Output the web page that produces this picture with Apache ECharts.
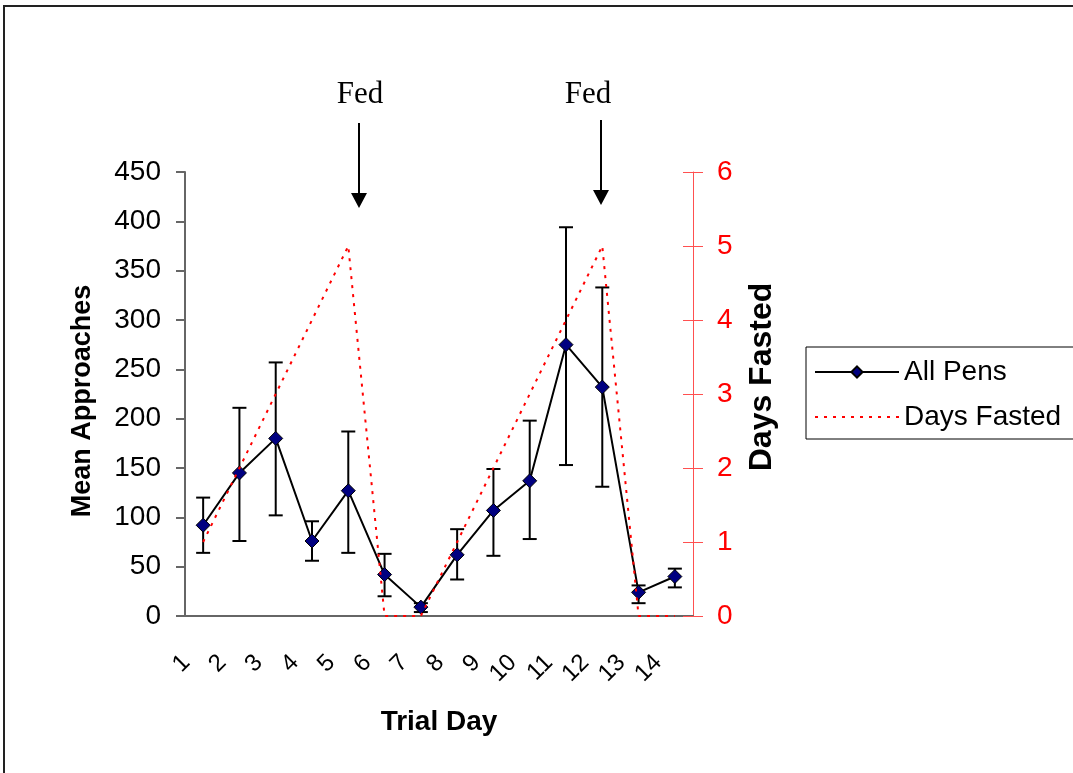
<!DOCTYPE html>
<html>
<head>
<meta charset="utf-8">
<script src="https://cdn.jsdelivr.net/npm/echarts@6/dist/echarts.min.js"></script>
<style>
html,body{margin:0;padding:0;background:#fff}
#chart{width:1073px;height:773px}
</style>
</head>
<body>
<div id="chart"></div>
<script>
// data
let days = ['1','2','3','4','5','6','7','8','9','10','11','12','13','14']
let allPens = [92, 145, 180, 76, 127, 42, 9, 62, 107, 137, 275, 232, 24, 40]
let errHigh = [120, 211, 257, 96, 187, 63, 13, 88, 149, 198, 394, 333, 31, 48]
let errLow = [64, 76, 102, 56, 64, 20, 4, 37, 61, 78, 153, 131, 13, 29]
let daysFasted = [1, 2, 3, 4, 5, 0, 0, 1, 2, 3, 4, 5, 0, 0]

let font = '"Liberation Sans", Arial, sans-serif'
let serif = '31px "Liberation Serif", "Times New Roman", serif'
let errData = days.map(function(d, i){ return [i, errLow[i], errHigh[i]] })

var myChart = echarts.init(document.getElementById('chart'))

// little helper for the "Fed" arrows
function arrow(x, y1, y2){
    return {
        type: 'group',
        children: [
            {type:'line', shape:{x1:x, y1:y1, x2:x, y2:y2-12}, style:{stroke:'#000', lineWidth:2}},
            {type:'polygon', shape:{points:[[x-8, y2-15],[x+8, y2-15],[x, y2]]}, style:{fill:'#000'}}
        ]
    }
}

var option = {
    animation: false,
    grid: {left: 185, right: 380, top: 172, bottom: 157},
    legend: {
        orient: 'vertical',
        left: 806, top: 347,
        padding: [11, 30, 8, 8],
        itemWidth: 84, itemHeight: 14, itemGap: 17,
        borderColor: '#000', borderWidth: 1,
        textStyle: {fontSize: 28, fontFamily: font, color: '#000'},
        data: ['All Pens', {name: 'Days Fasted', itemStyle: {opacity: 0}}]
    },
    xAxis: {
        type: 'category',
        data: days,
        name: 'Trial Day',
        nameLocation: 'middle',
        nameGap: 92,
        nameTextStyle: {fontSize: 28, fontWeight: 'bold', fontFamily: font, color: '#000'},
        axisLine: {lineStyle: {color: '#666', width: 2}},
        axisTick: {length: 9, lineStyle: {color: '#666', width: 2}},
        axisLabel: {interval: 0, hideOverlap: false, rotate: 45, margin: 26, padding: [0, 24, 0, 0], fontSize: 24, fontFamily: font, color: '#000'}
    },
    yAxis: [{
        type: 'value',
        min: 0, max: 450, interval: 50,
        name: 'Mean Approaches',
        nameLocation: 'middle',
        nameGap: 89,
        nameTextStyle: {fontSize: 27, fontWeight: 'bold', fontFamily: font, color: '#000', padding: [0, 14, 0, 0]},
        splitLine: {show: false},
        axisLine: {show: true, lineStyle: {color: '#666', width: 2}},
        axisTick: {show: true, length: 9, lineStyle: {color: '#666', width: 2}},
        axisLabel: {margin: 24, fontSize: 28, fontFamily: font, color: '#000'}
    }, {
        type: 'value',
        position: 'right',
        min: 0, max: 6, interval: 1,
        name: 'Days Fasted',
        nameLocation: 'middle',
        nameGap: 53,
        nameTextStyle: {fontSize: 32, fontWeight: 'bold', fontFamily: font, color: '#000', padding: [0, 0, 0, 34]},
        splitLine: {show: false},
        axisLine: {show: true, lineStyle: {color: '#ff5050', width: 1}},
        axisTick: {show: true, length: 10, lineStyle: {color: '#ff5050', width: 1}},
        axisLabel: {margin: 24, fontSize: 28, fontFamily: font, color: '#ff0000'}
    }, {
        // inner half of the crossing ticks on the right axis
        type: 'value',
        position: 'right',
        min: 0, max: 6, interval: 1,
        splitLine: {show: false},
        axisLine: {show: false},
        axisLabel: {show: false},
        axisTick: {show: true, inside: true, length: 10, lineStyle: {color: '#ff5050', width: 1}}
    }],
    series: [{
        name: 'errors',
        type: 'custom',
        yAxisIndex: 0,
        data: errData,
        z: 2,
        renderItem: function(params, api){
            let top = api.coord([api.value(0), api.value(2)])
            let bot = api.coord([api.value(0), api.value(1)])
            let w = 7
            let st = {stroke: '#000', lineWidth: 2}
            return {
                type: 'group',
                children: [
                    {type:'line', shape:{x1:top[0], y1:top[1], x2:bot[0], y2:bot[1]}, style:st},
                    {type:'line', shape:{x1:top[0]-w, y1:top[1], x2:top[0]+w, y2:top[1]}, style:st},
                    {type:'line', shape:{x1:bot[0]-w, y1:bot[1], x2:bot[0]+w, y2:bot[1]}, style:st}
                ]
            }
        }
    }, {
        name: 'All Pens',
        type: 'line',
        yAxisIndex: 0,
        data: allPens,
        z: 3,
        symbol: 'diamond',
        symbolSize: 14,
        lineStyle: {color: '#000', width: 2},
        itemStyle: {color: '#000080', borderColor: '#000', borderWidth: 1}
    }, {
        name: 'Days Fasted',
        type: 'line',
        yAxisIndex: 1,
        data: daysFasted,
        z: 4,
        symbol: 'none',
        lineStyle: {color: '#ff0000', width: 2, type: [3, 6]},
        itemStyle: {color: '#ff0000'}
    }],
    graphic: [
        {type:'rect', shape:{x:4, y:6, width:1200, height:900}, style:{fill:'none', stroke:'#222', lineWidth:2}},
        {type:'text', x:360, y:95, style:{text:'Fed', font:serif, fill:'#000', textAlign:'center', textVerticalAlign:'middle'}},
        {type:'text', x:588, y:95, style:{text:'Fed', font:serif, fill:'#000', textAlign:'center', textVerticalAlign:'middle'}},
        arrow(359, 123, 208),
        arrow(601, 120, 205)
    ]
}

myChart.setOption(option)
</script>
</body>
</html>
